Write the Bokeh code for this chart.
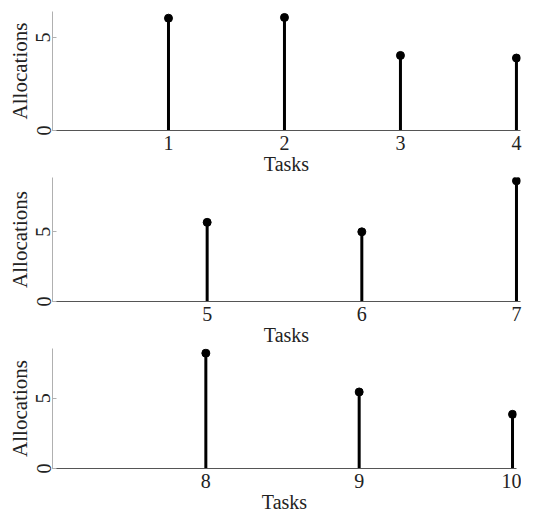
from bokeh.plotting import figure
from bokeh.layouts import column
from bokeh.models import FixedTicker, Range1d
from bokeh.embed import file_html
from bokeh.resources import INLINE

tasks_1 = [1, 2, 3, 4]
alloc_1 = [6.03, 6.07, 4.03, 3.89]
tasks_2 = [5, 6, 7]
alloc_2 = [5.68, 5.0, 8.66]
tasks_3 = [8, 9, 10]
alloc_3 = [8.2, 5.44, 3.85]

panels = [
    dict(tasks=tasks_1, alloc=alloc_1, xr=(0, 4.035), yr=(0, 6.39), fh=119, bt=11, bl=52, fw=468),
    dict(tasks=tasks_2, alloc=alloc_2, xr=(4, 7.026), yr=(0, 8.9), fh=124, bt=0, bl=52, fw=468),
    dict(tasks=tasks_3, alloc=alloc_3, xr=(7, 10.026), yr=(0, 8.53), fh=120, bt=0, bl=49, fw=464),
]

FONT = "Liberation Serif"
figs = []
for pd_ in panels:
    p = figure(frame_width=pd_["fw"], frame_height=pd_["fh"], output_backend="svg",
               toolbar_location=None, x_range=Range1d(*pd_["xr"]), y_range=Range1d(*pd_["yr"]),
               min_border_left=pd_["bl"], min_border_right=8, min_border_top=pd_["bt"],
               min_border_bottom=0)
    p.outline_line_color = None
    p.grid.visible = False
    p.segment(x0=pd_["tasks"], y0=[0] * len(pd_["tasks"]), x1=pd_["tasks"], y1=pd_["alloc"],
              line_color="black", line_width=3)
    p.scatter(x=pd_["tasks"], y=pd_["alloc"], size=8, color="black")

    xa = p.xaxis[0]
    xa.ticker = FixedTicker(ticks=pd_["tasks"])
    xa.axis_label = "Tasks"
    xa.axis_line_color = "#555555"
    xa.axis_line_width = 1.2
    xa.major_tick_in = 0
    xa.major_tick_out = 0
    xa.minor_tick_in = 0
    xa.minor_tick_out = 0
    xa.major_label_standoff = 5
    xa.axis_label_standoff = 0
    xa.major_label_text_font = FONT
    xa.major_label_text_font_size = "20px"
    xa.major_label_text_color = "#222222"
    xa.axis_label_text_font = FONT
    xa.axis_label_text_font_size = "20px"
    xa.axis_label_text_font_style = "normal"
    xa.axis_label_text_color = "#222222"

    ya = p.yaxis[0]
    ya.ticker = FixedTicker(ticks=[0, 5])
    ya.axis_label = "Allocations"
    ya.axis_line_color = "#b0b0b0"
    ya.axis_line_width = 1
    ya.major_tick_in = 4
    ya.major_tick_out = 0
    ya.major_tick_line_color = "#b0b0b0"
    ya.minor_tick_in = 0
    ya.minor_tick_out = 0
    ya.major_label_orientation = "vertical"
    ya.major_label_standoff = 2
    ya.axis_label_standoff = 2
    ya.major_label_text_font = FONT
    ya.major_label_text_font_size = "20px"
    ya.major_label_text_color = "#222222"
    ya.axis_label_text_font = FONT
    ya.axis_label_text_font_size = "21px"
    ya.axis_label_text_font_style = "normal"
    ya.axis_label_text_color = "#222222"
    figs.append(p)

layout = column(*figs, spacing=0)
open("out.html", "w").write(file_html(layout, INLINE))
